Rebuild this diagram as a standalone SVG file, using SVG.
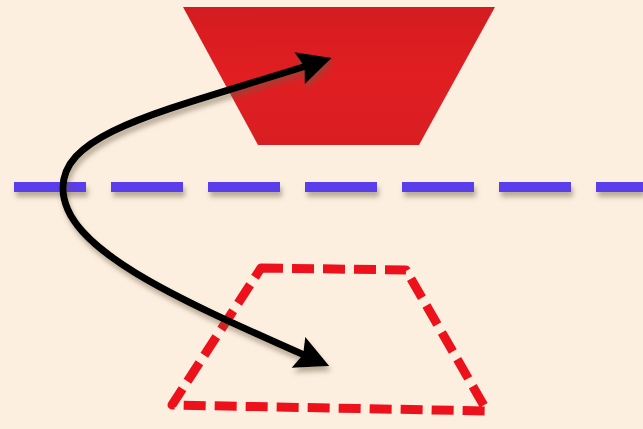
<svg xmlns="http://www.w3.org/2000/svg" width="643" height="429" viewBox="0 0 643 429">
  <style>
    .mirror { fill: none; stroke: #5A3DEB; stroke-width: 10; stroke-dasharray: 72 25; }
    .image { fill: none; stroke: #EC111A; stroke-width: 9; stroke-dasharray: 22 9; stroke-linejoin: round; }
    .path { fill: none; stroke: #000; stroke-width: 7; stroke-linecap: round; }
  </style>
  <defs>
    <filter id="sh" filterUnits="userSpaceOnUse" x="0" y="0" width="643" height="429">
      <feDropShadow dx="2" dy="5" stdDeviation="2.5" flood-color="#6b5a40" flood-opacity="0.45"/>
    </filter>
    <linearGradient id="redfill" x1="0" y1="0" x2="0" y2="1">
      <stop offset="0" stop-color="#D41C20"/>
      <stop offset="0.5" stop-color="#E11E22"/>
      <stop offset="1" stop-color="#D81E22"/>
    </linearGradient>
    <marker id="head" viewBox="0 0 10 10" refX="7" refY="5" markerWidth="5" markerHeight="4.8" orient="auto-start-reverse" markerUnits="strokeWidth">
      <path d="M0,0 L10,5 L0,10 L1.5,5 Z" fill="#000"/>
    </marker>
  </defs>
  <rect x="0" y="0" width="643" height="429" fill="#FCEFE0"/>
  <g id="object">
    <polygon points="183,7 495,7 419,145 258,145" fill="url(#redfill)"/>
  </g>
  <g id="mirror-line">
    <line x1="14" y1="187" x2="643" y2="187" class="mirror" filter="url(#sh)"/>
  </g>
  <g id="reflected-image">
    <polygon points="261,268 406,270 487,411 172,405" class="image"/>
  </g>
  <g id="connectors">
    <path class="path" filter="url(#sh)" d="M 322 61 C 170 110, 63 130, 63 188 C 63 250, 180 300, 320 362" marker-start="url(#head)" marker-end="url(#head)"/>
  </g>
</svg>
